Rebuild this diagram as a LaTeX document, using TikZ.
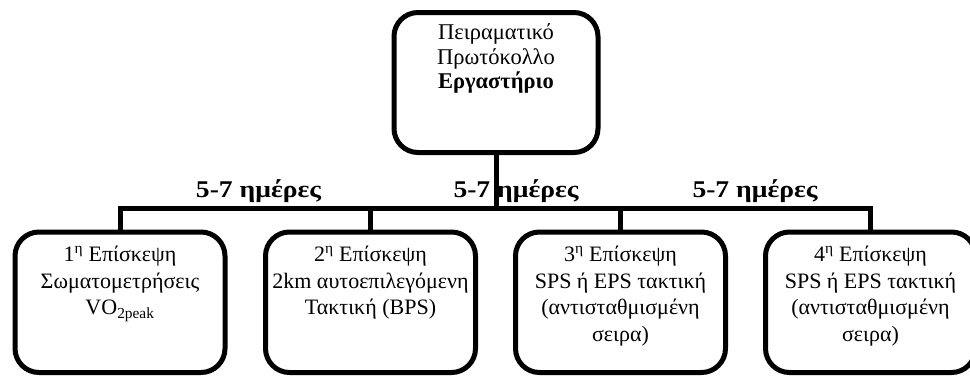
\documentclass[tikz,border=0pt]{standalone}
\usepackage{fontspec}
\setmainfont{Liberation Serif}
\tikzset{
  box/.style={draw=black, line width=5pt, rounded corners=24pt, inner sep=0pt, outer sep=0pt, fill=white},
  txt/.style={inner sep=0pt, outer sep=0pt, font=\fontsize{22}{26.5}\selectfont},
  toptxt/.style={inner sep=0pt, outer sep=0pt, font=\fontsize{22.5}{24.5}\selectfont},
  lbl/.style={inner sep=0pt, outer sep=0pt, xscale=1.15, font=\fontsize{24}{26}\selectfont\bfseries},
  conn/.style={line width=5pt, line join=miter}
}
\begin{document}
\begin{tikzpicture}[x=1pt, y=-1pt]
\useasboundingbox (0,0) rectangle (970,376);
% boxes
\node[box, minimum width=204pt, minimum height=140pt] (top) at (496,82.5) {};
\node[box, minimum width=210pt, minimum height=140.5pt] (b1) at (120,302.25) {};
\node[box, minimum width=210pt, minimum height=140.5pt] (b2) at (370.5,302.25) {};
\node[box, minimum width=210pt, minimum height=140.5pt] (b3) at (620.5,302.25) {};
\node[box, minimum width=210pt, minimum height=140.5pt] (b4) at (870.5,302.25) {};
% connectors
\coordinate (j) at (496,208.5);
\draw[conn] (b1.north) |- (j) -| (b4.north);
\draw[conn] (top.south) -- (j);
\draw[conn] (b2.north) -- (b2.north |- j);
\draw[conn] (b3.north) -- (b3.north |- j);
% texts
\node[toptxt, anchor=base] (ttop) at ([yshift=-27pt]top.north) {\parbox[t]{195pt}{\centering Πειραματικό\\Πρωτόκολλο\\\textbf{Εργαστήριο}}};
\node[txt, anchor=base] (t1) at ([yshift=-29.5pt]b1.north) {\parbox[t]{205pt}{\centering 1\textsuperscript{η} Επίσκεψη\\Σωματομετρήσεις\\VO\textsubscript{2peak}}};
\node[txt, anchor=base] (t2) at ([yshift=-29.5pt]b2.north) {\parbox[t]{205pt}{\centering 2\textsuperscript{η} Επίσκεψη\\2km αυτοεπιλεγόμενη\\Τακτική (BPS)}};
\node[txt, anchor=base] (t3) at ([yshift=-29.5pt]b3.north) {\parbox[t]{205pt}{\centering 3\textsuperscript{η} Επίσκεψη\\SPS ή EPS τακτική\\(αντισταθμισμένη\\σειρα)}};
\node[txt, anchor=base] (t4) at ([yshift=-29.5pt]b4.north) {\parbox[t]{205pt}{\centering 4\textsuperscript{η} Επίσκεψη\\SPS ή EPS τακτική\\(αντισταθμισμένη\\σειρα)}};
% labels
\node[lbl, anchor=base] (l1) at (258.5,197) {5-7 ημέρες};
\node[lbl, anchor=base] (l2) at (516,197) {5-7 ημέρες};
\node[lbl, anchor=base] (l3) at (755,197) {5-7 ημέρες};
\end{tikzpicture}
\end{document}
